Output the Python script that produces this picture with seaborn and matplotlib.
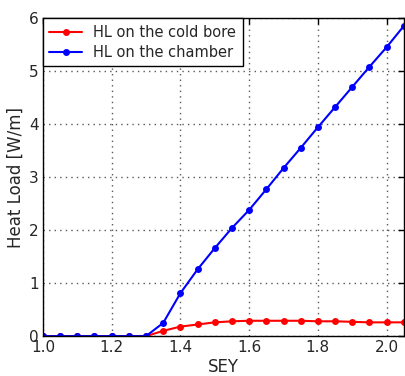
import numpy as np
import pandas as pd
import matplotlib
matplotlib.use("Agg")
import matplotlib.pyplot as plt
import seaborn as sns

sey = [1.0, 1.05, 1.1, 1.15, 1.2, 1.25, 1.3, 1.35, 1.4, 1.45, 1.5, 1.55, 1.6, 1.65,
       1.7, 1.75, 1.8, 1.85, 1.9, 1.95, 2.0, 2.05]
hl_cold_bore = [0, 0, 0, 0, 0, 0, 0, 0.10, 0.18, 0.22, 0.26, 0.28, 0.29, 0.29,
                0.29, 0.29, 0.28, 0.28, 0.27, 0.26, 0.26, 0.26]
hl_chamber = [0, 0, 0, 0, 0, 0, 0, 0.25, 0.81, 1.26, 1.66, 2.04, 2.38, 2.77,
              3.17, 3.55, 3.94, 4.32, 4.70, 5.08, 5.45, 5.85]
labels = ["HL on the cold bore", "HL on the chamber"]

df = pd.DataFrame({
    "SEY": sey * 2,
    "HL": hl_cold_bore + hl_chamber,
    "series": [labels[0]] * len(sey) + [labels[1]] * len(sey),
})

sns.set_style("white")
plt.rcParams['font.family'] = ['DejaVu Sans']

fig = plt.figure(figsize=(4.05, 3.76), dpi=100)
ax = fig.add_axes([0.106, 0.106, 0.891, 0.846])

sns.lineplot(data=df, x="SEY", y="HL", hue="series", palette=["#ff0000", "#0000ff"],
             marker="o", markersize=5, markeredgewidth=0, linewidth=1.5, ax=ax)

ax.set_xlim(1.0, 2.05)
ax.set_ylim(0, 6)
ax.set_xticks([1.0, 1.2, 1.4, 1.6, 1.8, 2.0])
ax.set_yticks([0, 1, 2, 3, 4, 5, 6])
ax.set_xticklabels(["1.0", "1.2", "1.4", "1.6", "1.8", "2.0"])
ax.tick_params(direction="in", length=4, width=1, labelsize=11, top=True, right=True,
               color="black", pad=3)
ax.grid(True, linestyle=(0, (1, 3)), color="0.35", linewidth=1)
for s in ax.spines.values():
    s.set_color("black")
    s.set_linewidth(1)
ax.set_xlabel("SEY", fontsize=12, labelpad=2)
ax.set_ylabel("Heat Load [W/m]", fontsize=12, labelpad=3)

leg = ax.legend(loc="upper left", fontsize=10.5, fancybox=False, frameon=True,
                borderaxespad=0, handlelength=2.2, borderpad=0.45, labelspacing=0.35)
leg.get_frame().set_edgecolor("black")
leg.get_frame().set_linewidth(1)
leg.get_frame().set_alpha(1)

fig.savefig("out.png", dpi=100)
